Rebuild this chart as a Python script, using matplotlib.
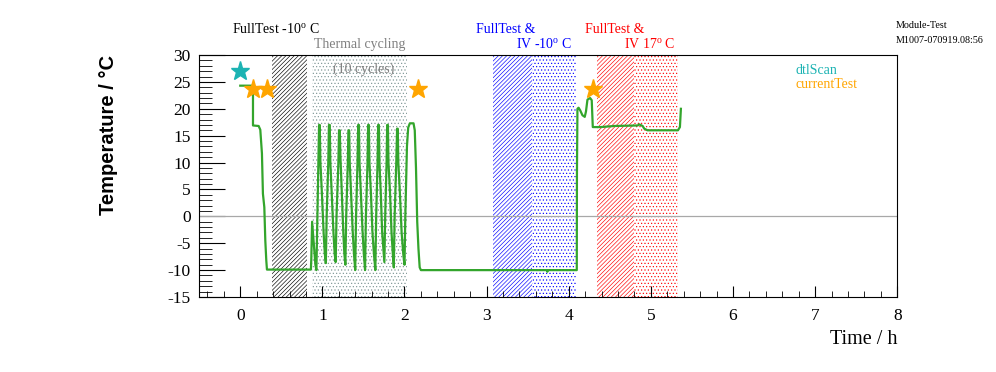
import numpy as np
import matplotlib.pyplot as plt

# temperature log of the module test (hours, deg C)
time_h = [
    0.000, 0.142, 0.155, 0.155, 0.224, 0.244, 0.256, 0.264, 0.276, 0.293, 0.305, 0.317, 0.325,
    0.860, 0.865, 0.875, 0.885, 0.900, 0.915,
    0.927, 0.937, 0.952, 0.960, 0.968, 0.976, 0.995, 1.015, 1.030,
    1.042, 1.052, 1.072, 1.080, 1.090, 1.097, 1.115, 1.135, 1.150,
    1.162, 1.172, 1.195, 1.203, 1.212, 1.220, 1.237, 1.255, 1.268,
    1.280, 1.290, 1.310, 1.317, 1.326, 1.333, 1.350, 1.370, 1.385,
    1.400, 1.410, 1.428, 1.436, 1.445, 1.452, 1.470, 1.490, 1.505,
    1.520, 1.530, 1.550, 1.557, 1.566, 1.573, 1.592, 1.610, 1.628,
    1.645, 1.655, 1.672, 1.679, 1.688, 1.695, 1.712, 1.728, 1.742,
    1.755, 1.765, 1.782, 1.789, 1.798, 1.805, 1.825, 1.842, 1.858,
    1.870, 1.880, 1.900, 1.910, 1.918, 1.925, 1.945, 1.965, 1.985,
    2.000, 2.010, 2.030, 2.045, 2.065, 2.110, 2.125, 2.140, 2.155, 2.170, 2.185, 2.200,
    3.730, 3.740, 3.750, 4.098, 4.100, 4.106, 4.120, 4.140, 4.167, 4.195, 4.210,
    4.228, 4.260, 4.280, 4.293, 4.390, 4.550, 4.840, 4.860, 4.900, 4.920, 4.960,
    5.330, 5.354, 5.366,
]
temp_c = [
    24.3, 24.3, 24.3, 16.9, 16.8, 16.1, 13.5, 11.7, 4.2, 1.7, -4.5, -8.2, -9.9,
    -9.9, -8.0, -1.0, -3.0, -6.0, -9.0,
    -10.0, -2.0, 10.0, 17.0, 17.0, 10.0, 4.0, -3.0, -7.0,
    -8.7, 0.0, 10.0, 17.0, 17.0, 10.0, 4.0, -3.0, -7.0,
    -8.5, 0.0, 10.0, 16.0, 16.0, 11.0, 4.0, -3.0, -7.0,
    -9.0, 0.0, 10.0, 16.0, 16.0, 10.0, 4.0, -3.0, -7.0,
    -10.0, 0.0, 10.0, 17.0, 17.0, 10.0, 4.0, -3.0, -7.0,
    -10.0, 0.0, 10.0, 17.0, 17.0, 10.0, 4.0, -3.0, -7.0,
    -10.0, 0.0, 10.0, 17.0, 17.0, 10.0, 4.0, -3.0, -6.0,
    -8.5, 0.0, 10.0, 17.0, 17.0, 10.0, 4.0, -3.0, -7.0,
    -9.5, 0.0, 10.0, 16.3, 16.3, 10.0, 4.0, -3.0, -7.0,
    -9.0, 0.0, 13.0, 16.5, 17.3, 17.3, 16.0, 9.0, -1.0, -6.0, -9.5, -10.0,
    -10.0, -10.3, -10.0, -10.0, 7.9, 20.0, 20.2, 19.7, 18.8, 18.5, 19.5,
    21.7, 22.0, 21.6, 16.6, 16.6, 16.8, 16.9, 17.1, 16.8, 16.3, 16.0,
    16.0, 16.6, 20.0,
]

# test markers
dtl_scan_t = [0.0]
dtl_scan_temp = [27.0]
current_test_t = [0.155, 0.325, 2.17, 4.293]
current_test_temp = [23.7, 23.7, 23.7, 23.7]

# shaded test periods: (start, end, colour, hatch)
periods = [
    (0.39, 0.81, 'black', '////////'),
    (0.87, 2.03, '#7f9595', '.....'),
    (3.08, 3.55, 'blue', '////////'),
    (3.55, 4.09, 'blue', '.....'),
    (4.35, 4.80, 'red', '////////'),
    (4.80, 5.33, 'red', '.....'),
]

plt.rcParams['font.family'] = ['Liberation Serif', 'DejaVu Serif']
plt.rcParams['axes.unicode_minus'] = False
plt.rcParams['hatch.linewidth'] = 0.45
plt.rcParams['mathtext.fontset'] = 'custom'
plt.rcParams['mathtext.rm'] = 'Liberation Serif'
plt.rcParams['mathtext.it'] = 'Liberation Serif:italic'

fig = plt.figure(figsize=(9.96, 3.72), dpi=100)
ax = fig.add_axes([0.2, 0.2016, 0.7008, 0.6505])

for start, end, color, hatch in periods:
    ax.axvspan(start, end, facecolor='none', edgecolor=color, hatch=hatch, linewidth=0)

ax.axhline(0, color='#a8a8a8', linewidth=0.9)
ax.plot(time_h, temp_c, color='#33a52c', linewidth=1.6)

ax.plot(dtl_scan_t, dtl_scan_temp, linestyle='none', marker='*', markersize=14, color='#1cb3b3')
ax.plot(current_test_t, current_test_temp, linestyle='none', marker='*', markersize=14, color='#ffa500')

ax.set_xlim(-0.5, 8)
ax.set_ylim(-15, 30)
ax.set_xticks(np.arange(0, 9, 1))
ax.set_xticks(np.arange(-0.4, 8.0, 0.2), minor=True)
ax.set_yticks(np.arange(-15, 31, 5))
ax.set_yticks(np.arange(-15, 31, 1), minor=True)
ax.tick_params(axis='both', which='both', direction='in', top=False, right=False, labelsize=12.5)
ax.tick_params(axis='y', which='major', length=19, pad=6)
ax.tick_params(axis='y', which='minor', length=9)
ax.tick_params(axis='x', which='major', length=8, pad=8)
ax.tick_params(axis='x', which='minor', length=4)

ax.set_xlabel('Time / h', fontsize=14.5, loc='right', labelpad=4)
ax.set_ylabel('Temperature / °C', fontsize=14.5, loc='top', fontweight='bold',
              family='Liberation Sans', labelpad=36)

# annotations above the frame
fig.text(232 / 996, 1 - 33 / 372, 'FullTest -10$^{\\rm o}$ C', fontsize=10, color='black')
fig.text(314 / 996, 1 - 48 / 372, 'Thermal cycling', fontsize=10, color='#808080')
fig.text(333 / 996, 1 - 73 / 372, '(10 cycles)', fontsize=10, color='#808080')
fig.text(476 / 996, 1 - 33 / 372, 'FullTest &', fontsize=10, color='blue')
fig.text(516 / 996, 1 - 48 / 372, 'IV -10$^{\\rm o}$ C', fontsize=10, color='blue')
fig.text(585 / 996, 1 - 33 / 372, 'FullTest &', fontsize=10, color='red')
fig.text(624 / 996, 1 - 48 / 372, 'IV 17$^{\\rm o}$ C', fontsize=10, color='red')
fig.text(896 / 996, 1 - 28 / 372, 'Module-Test', fontsize=7.3, color='black')
fig.text(896 / 996, 1 - 43 / 372, 'M1007-070919.08:56', fontsize=7.3, color='black')

# legend as plain coloured text
fig.text(796 / 996, 1 - 74 / 372, 'dtlScan', fontsize=10, color='#1cb3b3')
fig.text(796 / 996, 1 - 88 / 372, 'currentTest', fontsize=10, color='#ffa500')

plt.savefig('out.png', dpi=100)
plt.close()
